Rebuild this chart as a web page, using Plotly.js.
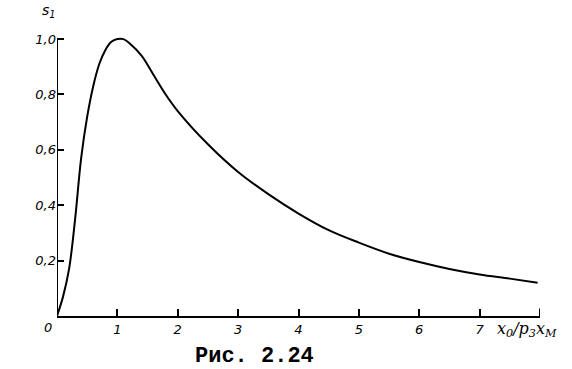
<!DOCTYPE html>
<html>
<head>
<meta charset="utf-8">
<script src="https://cdn.plot.ly/plotly-3.0.1.min.js"></script>
<style>html,body{margin:0;padding:0;background:#fff;}#chart{width:572px;height:369px;}</style>
</head>
<body>
<div id="chart"></div>
<script>
// Curve values
const xVals = [0, 0.1, 0.2, 0.3, 0.4, 0.5, 0.6, 0.7, 0.8, 0.9, 1.0, 1.1, 1.2, 1.4, 1.6, 1.8, 2.0, 2.5, 3.0, 3.5, 4.0, 4.5, 5.0, 5.5, 6.0, 6.5, 7.0, 7.5, 7.96];
const s1Vals = [0, 0.07, 0.17, 0.35, 0.57, 0.72, 0.83, 0.91, 0.96, 0.99, 1.0, 1.0, 0.985, 0.94, 0.87, 0.80, 0.74, 0.62, 0.52, 0.44, 0.37, 0.31, 0.265, 0.225, 0.195, 0.17, 0.15, 0.135, 0.12];
const xTickVals = [1, 2, 3, 4, 5, 6, 7];
const xTickText = ['1', '2', '3', '4', '5', '6', '7'];
const yTickVals = [0.2, 0.4, 0.6, 0.8, 1.0];
const yTickText = ['0,2', '0,4', '0,6', '0,8', '1,0'];
const yLabel = 's<sub>1</sub>';
const xLabel = 'x<sub>0</sub>/p<sub>3</sub>x<sub>M</sub>';
const caption = 'Рис. 2.24';

const tickFont = {family: 'DejaVu Sans', size: 13, color: '#000', style: 'italic'};

const data = [{
  x: xVals, y: s1Vals, type: 'scatter', mode: 'lines',
  line: {color: '#000', width: 2, shape: 'spline', smoothing: 1},
  hoverinfo: 'skip', showlegend: false
}];

const layout = {
  width: 572, height: 369,
  margin: {l: 57, r: 32, t: 28, b: 53},
  paper_bgcolor: '#fff', plot_bgcolor: '#fff',
  showlegend: false,
  xaxis: {
    range: [0, 8], showgrid: false, zeroline: false,
    showline: true, linecolor: '#000', linewidth: 2,
    ticks: 'inside', ticklen: 7, tickwidth: 2, tickcolor: '#000',
    tickvals: xTickVals, ticktext: xTickText, tickfont: tickFont
  },
  yaxis: {
    range: [0, 1.04], showgrid: false, zeroline: false,
    showline: false,
    ticks: 'inside', ticklen: 7, tickwidth: 2, tickcolor: '#000',
    tickvals: yTickVals, ticktext: yTickText, tickfont: tickFont
  },
  shapes: [
    {type: 'line', xref: 'x', yref: 'y', x0: 0, x1: 0, y0: 0, y1: 1.0,
     line: {color: '#000', width: 2}},
    {type: 'line', xref: 'x', yref: 'y', x0: 8, x1: 8, y0: 0, y1: 0.027,
     line: {color: '#000', width: 2}}
  ],
  annotations: [
    {text: '0', xref: 'x', yref: 'y', x: 0, y: 0, xanchor: 'right', yanchor: 'top',
     xshift: -3, yshift: -2, showarrow: false, font: tickFont},
    {text: yLabel, xref: 'x', yref: 'paper', x: 0, y: 1.0, xanchor: 'right', yanchor: 'bottom',
     xshift: 1, yshift: 6, showarrow: false, font: {family: 'DejaVu Sans', size: 14, color: '#000', style: 'italic'}},
    {text: xLabel, xref: 'paper', yref: 'paper', x: 1.0, y: 0, xanchor: 'center', yanchor: 'top',
     xshift: -13, yshift: -1, showarrow: false, font: {family: 'DejaVu Serif', size: 16, color: '#000', style: 'italic'}},
    {text: caption, xref: 'paper', yref: 'paper', x: 0.408, y: 0, xanchor: 'center', yanchor: 'top',
     yshift: -26, showarrow: false, font: {family: 'Liberation Mono', size: 22, color: '#000', weight: 'bold'}}
  ]
};

Plotly.newPlot('chart', data, layout, {staticPlot: true, displayModeBar: false});
</script>
</body>
</html>
